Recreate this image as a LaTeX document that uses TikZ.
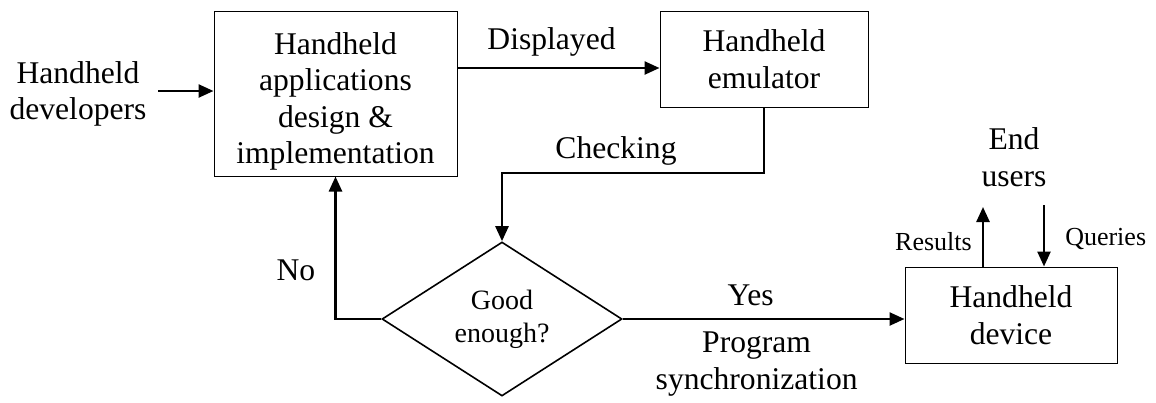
\documentclass[tikz,border=0pt]{standalone}
\usepackage{fontspec}
\setmainfont{Liberation Serif}
\usetikzlibrary{arrows.meta,shapes.geometric}

\tikzset{
  big/.style={font=\fontsize{31.6}{36.4}\selectfont},
  mid/.style={font=\fontsize{28}{33}\selectfont},
  small/.style={font=\fontsize{26}{30}\selectfont},
  procbox/.style={draw, line width=1pt, rectangle, align=center, inner sep=0pt, big},
  decide/.style={draw, line width=1.6pt, diamond, inner sep=0pt, align=center, mid},
  lbl/.style={inner sep=0pt, align=center},
  flow/.style={line width=2.5pt, -{Triangle[length=15pt,width=13pt]}},
}

\begin{document}
\begin{tikzpicture}[x=1pt, y=-1pt]
\useasboundingbox (0,0) rectangle (1156,402);

% process boxes
\node[procbox, minimum width=243pt, minimum height=165pt,
  label={[lbl, big, yshift=-8pt]center:{Handheld\\applications\\design \&\\implementation}}]
  (design) at (335.5,93.5) {};
\node[procbox, minimum width=208pt, minimum height=96pt] (emu) at (764,59)
  {Handheld\\emulator};
\node[procbox, minimum width=212pt, minimum height=96pt] (device) at (1011,315)
  {Handheld\\device};

% decision
\node[decide, minimum width=240pt, minimum height=154pt] (dia) at (502,319)
  {Good\\enough?};

% free text
\node[lbl, big] (dev) at (78,94) {Handheld\\developers};
\node[lbl, big] (endu) at (1014,157) {End\\users};

% helper coordinates
\coordinate (yd) at (0,68);
\coordinate (yc) at (0,173);
\coordinate (devtail) at (158,91);
\coordinate (rtop) at (983,207);
\coordinate (qtop) at (1044,205);

% connectors
\draw[flow] (devtail) -- (design.west |- devtail);
\draw[flow] (design.east |- yd) -- node[lbl, big, above=10pt, xshift=-7pt] (disp) {Displayed} (emu.west |- yd);
\draw[flow] (emu.south) -- (emu.south |- yc)
  -- node[lbl, big, above=6pt, xshift=-17pt] (chk) {Checking} (dia.north |- yc) -- (dia.north);
\draw[flow] (dia.west) -| node[pos=0.72, lbl, big, left=25pt, xshift=6pt, yshift=-14pt] (no) {No} (design.south);
\draw[flow] (dia.east) -- node[lbl, big, above=12pt, xshift=-13pt] (yes) {Yes}
  node[lbl, big, below=12pt, xshift=-7pt] (sync) {Program\\synchronization} (device.west |- dia.east);
\draw[flow] (device.north -| rtop) -- node[lbl, small, left=10pt, yshift=-5pt] (res) {Results} (rtop);
\draw[flow] (qtop) -- node[lbl, small, right=20pt, yshift=-3pt] (qry) {Queries} (device.north -| qtop);
\end{tikzpicture}
\end{document}
